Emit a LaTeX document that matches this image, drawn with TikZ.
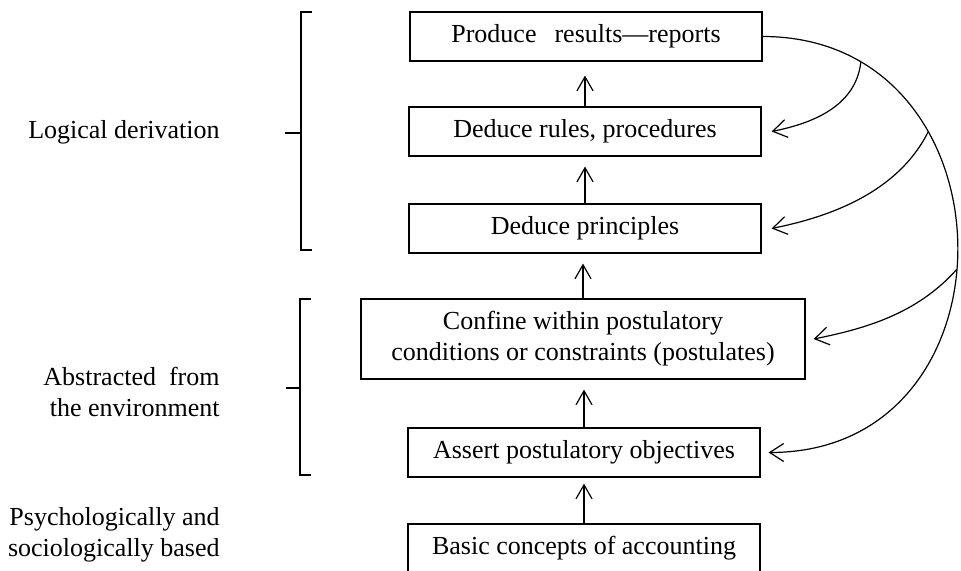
\documentclass[tikz,border=0pt]{standalone}
\usepackage{fontspec}
\setmainfont{Liberation Serif}
\usetikzlibrary{arrows.meta}
\begin{document}
\begin{tikzpicture}[x=0.5pt,y=-0.5pt,
  txt/.style={font=\fontsize{13}{15.5}\selectfont},
  box/.style={txt,draw,line width=0.6pt,minimum width=176pt,minimum height=24.5pt,inner sep=0pt},
  lbl/.style={txt,align=right,inner sep=0pt,anchor=east},
  tip/.style={-{Straight Barb[length=7pt,width=8pt,line width=0.6pt]}},
  ctip/.style={-{Straight Barb[length=7pt,width=9pt,line width=0.6pt]}},
  ln/.style={line width=0.6pt},
  brk/.style={line width=0.8pt}]
\useasboundingbox (0,0) rectangle (961,571);
% boxes
\node[box] (p) at (586,36.5) {Produce\hspace{9pt}results—reports};
\node[box] (r) at (585,131.5) {Deduce rules, procedures};
\node[box] (q) at (585,228.5) {Deduce principles};
\node[box,minimum width=222pt,minimum height=40pt,align=center] (c) at (583,339) {Confine within postulatory\\conditions or constraints (postulates)};
\node[box] (a) at (584,452.5) {Assert postulatory objectives};
\node[box] (b) at (584,548.5) {Basic concepts of accounting};
% vertical arrows
\draw[ln,tip,shorten >=7pt] (r.north) -- (r.north |- p.south);
\draw[ln,tip,shorten >=5pt] (q.north) -- (q.north |- r.south);
\draw[ln,tip,shorten >=5pt] (c.north) -- (c.north |- q.south);
\draw[ln,tip,shorten >=5pt] (a.north) -- (a.north |- c.south);
\draw[ln,tip,shorten >=3pt] (b.north) -- (b.north |- a.south);
% feedback arcs
\coordinate (ae) at ([xshift=4pt]a.east);
\coordinate (re) at ([xshift=5pt]r.east);
\coordinate (qe) at ([xshift=5pt]q.east);
\coordinate (ce) at ([xshift=4pt]c.east);
\draw[ln,ctip] (p.east) .. controls +(256,0) and +(256,0) .. (ae)
  coordinate[pos=0.15] (k1) coordinate[pos=0.31] (k2) coordinate[pos=0.54] (k3);
\draw[ln,ctip] (k1) .. controls +(-5,45) and +(40,-8) .. (re);
\draw[ln,ctip] (k2) .. controls +(-30,60) and +(60,-12) .. (qe);
\draw[ln,ctip] (k3) .. controls +(-40,45) and +(50,-10) .. (ce);
% brackets
\draw[brk] (312,12) -- (301,12) -- (301,250) -- (312,250);
\draw[brk] (285,133) -- (301,133);
\draw[brk] (311,299) -- (300,299) -- (300,475) -- (311,475);
\draw[brk] (286,388) -- (300,388);
% labels
\node[lbl] (l1) at (220,132) {Logical derivation};
\node[lbl] (l2) at (220,392) {Abstracted\ \ from\\the environment};
\node[lbl] (l3) at (220,535) {Psychologically and\\sociologically based};
\end{tikzpicture}
\end{document}
